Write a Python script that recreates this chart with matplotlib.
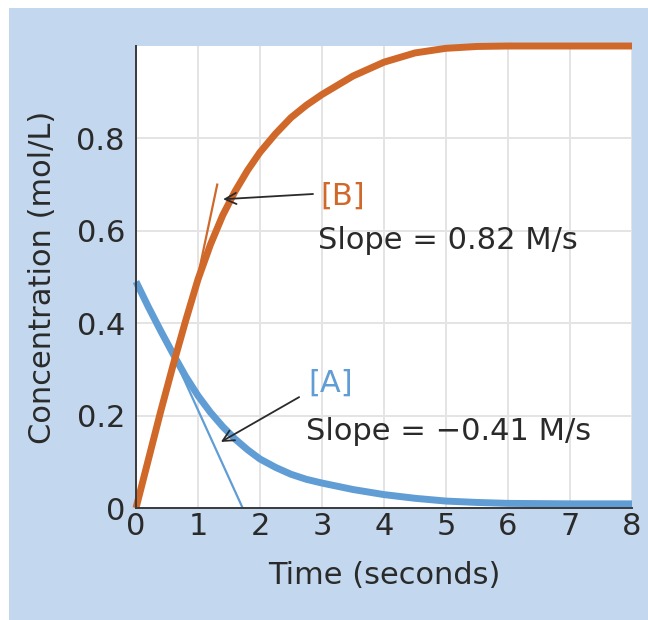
import matplotlib
matplotlib.use("Agg")
import matplotlib.pyplot as plt
from matplotlib.patches import Rectangle

# values
time_A = [0, 0.2, 0.4, 0.6, 0.8, 1.0, 1.2, 1.4, 1.6, 1.8, 2.0, 2.25, 2.5, 2.75, 3.0, 3.5, 4.0, 4.5, 5.0, 5.5, 6.0, 7.0, 8.0]
conc_A = [0.49, 0.435, 0.383, 0.333, 0.285, 0.243, 0.207, 0.176, 0.149, 0.126, 0.106, 0.088, 0.073, 0.062, 0.054, 0.04, 0.029, 0.021, 0.015, 0.012, 0.01, 0.009, 0.009]

time_B = [0, 0.2, 0.4, 0.6, 0.8, 1.0, 1.2, 1.4, 1.6, 1.8, 2.0, 2.25, 2.5, 2.75, 3.0, 3.25, 3.5, 4.0, 4.5, 5.0, 5.5, 6.0, 7.0, 8.0]
conc_B = [0.0, 0.105, 0.21, 0.31, 0.405, 0.495, 0.57, 0.634, 0.686, 0.731, 0.77, 0.81, 0.845, 0.872, 0.895, 0.915, 0.935, 0.965, 0.985, 0.995, 0.999, 1.0, 1.0, 1.0]

# tangent segments (endpoints)
tan_A_t = [0.6, 1.72]
tan_A_c = [0.33, 0.0]
tan_B_t = [0.92, 1.31]
tan_B_c = [0.452, 0.70]

x_ticks = [0, 1, 2, 3, 4, 5, 6, 7, 8]
y_ticks = [0, 0.2, 0.4, 0.6, 0.8]
y_tick_labels = ["0", "0.2", "0.4", "0.6", "0.8"]

orange = "#d0682a"
blue = "#619dd5"
panel = "#c3d8ee"
ink = "#2a2a2a"

plt.rcParams['font.family'] = ['DejaVu Sans']
fs = 22

fig = plt.figure(figsize=(6.48, 6.2), dpi=100, facecolor="white")
fig.patches.append(Rectangle((9 / 648, 0), 1, 1 - 8 / 620, transform=fig.transFigure,
                             facecolor=panel, edgecolor="none", zorder=-10))
ax = fig.add_axes([136 / 648, 1 - 508 / 620, 496 / 648, 462 / 620])
ax.set_facecolor("white")

ax.set_xlim(0, 8)
ax.set_ylim(0, 1.0)
ax.set_xticks(x_ticks)
ax.set_yticks(y_ticks)
ax.set_yticklabels(y_tick_labels)
ax.tick_params(length=0, labelsize=fs, colors=ink)
ax.tick_params(axis="y", pad=8)
ax.tick_params(axis="x", pad=3)
ax.grid(True, color="#e4e4e4", lw=1.4)
ax.set_axisbelow(True)
for s in ["top", "right"]:
    ax.spines[s].set_visible(False)
for s in ["left", "bottom"]:
    ax.spines[s].set_color("#3a3a3a")
    ax.spines[s].set_linewidth(1.4)
    ax.spines[s].set_zorder(5)

# tangents under the thick curves
ax.plot(tan_A_t, tan_A_c, color=blue, lw=1.6, zorder=2)
ax.plot(tan_B_t, tan_B_c, color=orange, lw=1.6, zorder=2)

ax.plot(time_A, conc_A, color=blue, lw=5, solid_capstyle="butt", solid_joinstyle="round",
        zorder=3, clip_on=False)
ax.plot(time_B, conc_B, color=orange, lw=5, solid_capstyle="butt", solid_joinstyle="round",
        zorder=3, clip_on=False)

arrow = dict(arrowstyle="->", color=ink, lw=1.3, mutation_scale=20)
ax.annotate("", xy=(1.36, 0.668), xytext=(2.9, 0.68), arrowprops=arrow, zorder=6)
ax.annotate("", xy=(1.33, 0.14), xytext=(2.67, 0.243), arrowprops=arrow, zorder=6)

ax.text(2.97, 0.676, "[B]", color=orange, fontsize=fs, va="center", ha="left")
ax.text(2.93, 0.58, "Slope = 0.82 M/s", color=ink, fontsize=fs, va="center", ha="left")
ax.text(2.78, 0.27, "[A]", color=blue, fontsize=fs, va="center", ha="left")
ax.text(2.74, 0.165, "Slope = \u22120.41 M/s", color=ink, fontsize=fs, va="center", ha="left")

ax.set_xlabel("Time (seconds)", fontsize=fs, color=ink, labelpad=14)
ax.set_ylabel("Concentration (mol/L)", fontsize=fs, color=ink, labelpad=14)

fig.savefig("out.png", dpi=100, facecolor=fig.get_facecolor())
